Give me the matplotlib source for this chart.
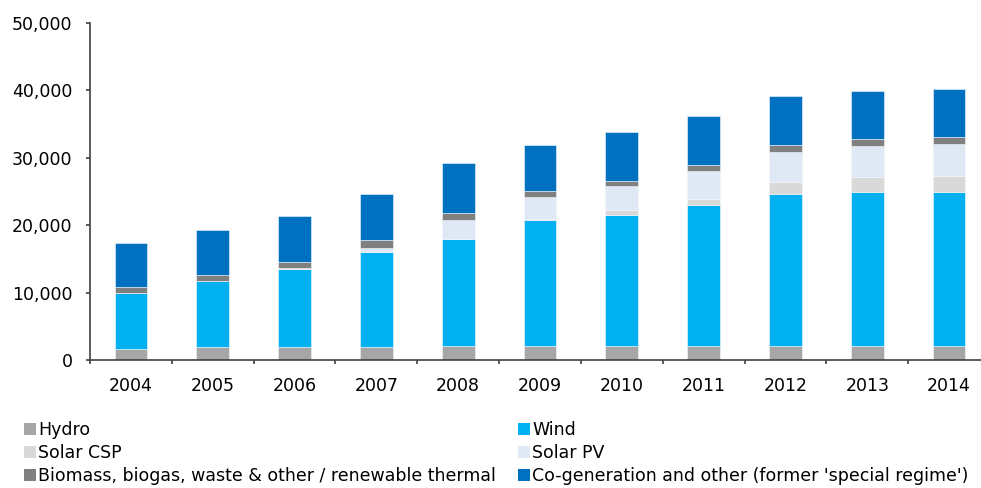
import matplotlib.pyplot as plt
from matplotlib.ticker import FuncFormatter, FixedLocator
from matplotlib.patches import Patch

plt.rcParams['font.family'] = ['DejaVu Sans']

years = ['2004', '2005', '2006', '2007', '2008', '2009', '2010', '2011', '2012', '2013', '2014']

hydro = [1630, 1880, 1880, 1880, 2080, 2080, 2080, 2080, 2080, 2080, 2080]
wind = [8310, 9840, 11580, 14100, 15870, 18640, 19430, 20970, 22500, 22890, 22890]
solar_csp = [0, 0, 0, 10, 60, 230, 700, 840, 1880, 2180, 2330]
solar_pv = [20, 50, 120, 640, 2800, 3180, 3660, 4160, 4350, 4550, 4800]
biomass = [850, 830, 960, 1140, 1040, 880, 700, 840, 1040, 1040, 1030]
cogen = [6600, 6640, 6820, 6820, 7320, 6890, 7270, 7270, 7360, 7130, 7130]

series = [
    ('Hydro', hydro, '#a6a6a6'),
    ('Wind', wind, '#00b0f0'),
    ('Solar CSP', solar_csp, '#d9d9d9'),
    ('Solar PV', solar_pv, '#dee9f5'),
    ('Biomass, biogas, waste & other / renewable thermal', biomass, '#808080'),
    ("Co-generation and other (former 'special regime')", cogen, '#0070c0'),
]

fig = plt.figure(figsize=(9.81, 4.88), dpi=100)
ax = fig.add_axes([90 / 981, 128 / 488, 900 / 981, 337 / 488])

x = list(range(len(years)))
bottom = [0] * len(years)
handles = {}
for name, vals, col in series:
    ax.bar(x, vals, 0.4, bottom=bottom, color=col, edgecolor='#f4f8fc', linewidth=0.4)
    handles[name] = Patch(facecolor=col, edgecolor='none')
    bottom = [b + v for b, v in zip(bottom, vals)]

ax.set_xlim(-0.5, len(years) - 0.5)
ax.set_ylim(0, 50000)
ax.set_yticks(range(0, 50001, 10000))
ax.yaxis.set_major_formatter(FuncFormatter(lambda v, p: f'{int(v):,}'))
ax.set_xticks(x)
ax.set_xticklabels(years)
ax.xaxis.set_minor_locator(FixedLocator([i + 0.5 for i in range(-1, len(years))]))

for s in ['top', 'right']:
    ax.spines[s].set_visible(False)
for s in ['left', 'bottom']:
    ax.spines[s].set_color('#404040')
    ax.spines[s].set_linewidth(1.2)

ax.tick_params(axis='y', length=3, width=1.2, color='#404040', labelsize=12.5, pad=9.5)
ax.tick_params(axis='x', which='major', length=0, labelsize=12.5, pad=12.5)
ax.tick_params(axis='x', which='minor', length=3, width=1.2, color='#404040')

names = [s[0] for s in series]
left_names = [names[0], names[2], names[4]]
right_names = [names[1], names[3], names[5]]

leg_kw = dict(frameon=False, fontsize=12.5, handlelength=0.7, handleheight=0.7,
              handletextpad=0.12, labelspacing=0.28, borderpad=0, borderaxespad=0,
              loc='upper left')
leg1 = fig.legend([handles[n] for n in left_names], left_names,
                  bbox_to_anchor=(24 / 981, 1 - 421 / 488), **leg_kw)
leg2 = fig.legend([handles[n] for n in right_names], right_names,
                  bbox_to_anchor=(518 / 981, 1 - 421 / 488), **leg_kw)

fig.savefig('out.png', dpi=100)
